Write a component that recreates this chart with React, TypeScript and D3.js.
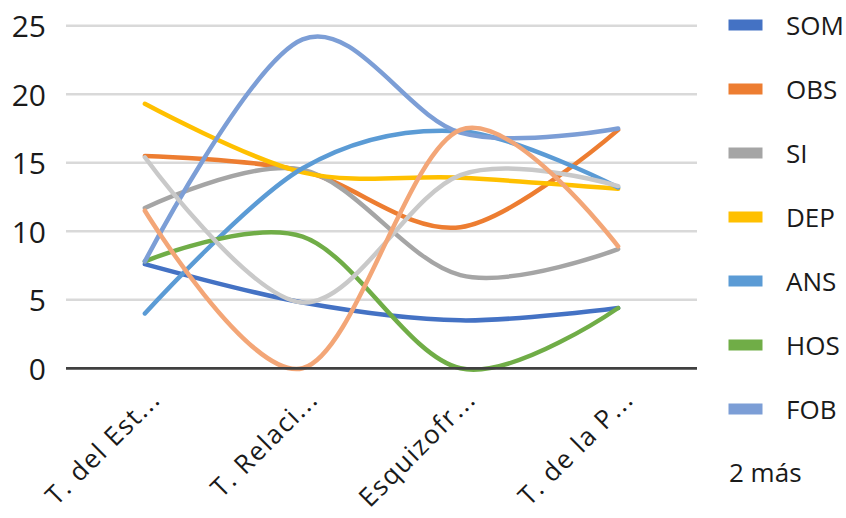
import React from "react";
import * as d3 from "d3";

const categories = ["T. del Est...", "T. Relaci...", "Esquizofr...", "T. de la P..."];
const seriesNames = ["SOM", "OBS", "SI", "DEP", "ANS", "HOS", "FOB", "Serie 8", "Serie 9"];
const SOM = [7.6, 4.8, 3.5, 4.4];
const OBS = [15.5, 14.4, 10.3, 17.4];
const SI = [11.7, 14.5, 6.8, 8.7];
const DEP = [19.3, 14.3, 13.9, 13.1];
const ANS = [4.0, 14.6, 17.3, 13.2];
const HOS = [7.8, 9.6, 0.0, 4.4];
const FOB = [7.8, 24.0, 17.2, 17.5];
const S8 = [15.4, 4.8, 14.1, 13.3];
const S9 = [11.5, 0.0, 17.4, 8.9];
const seriesValues = [SOM, OBS, SI, DEP, ANS, HOS, FOB, S8, S9];
const colors = ["#4472C4", "#ED7D31", "#A5A5A5", "#FFC000", "#5B9BD5", "#70AD47", "#7C9ED6", "#C9C9C9", "#F3A677"];
const legendShown = 7;
const moreLabel = "2 más";
const yTicks = [0, 5, 10, 15, 20, 25];

const W = 846;
const H = 518;
const FONT = "'Open Sans', sans-serif";

export default function App() {
  const x = d3.scalePoint<string>().domain(categories).range([66, 697]).padding(0.5);
  const y = d3.scaleLinear().domain([0, 25]).range([368.3, 25.7]);
  const line = d3
    .line<number>()
    .x((_, i) => x(categories[i]) as number)
    .y((d) => y(d))
    .curve(d3.curveCatmullRom.alpha(0));

  const drawOrder = [0, 1, 2, 3, 4, 5, 6, 7, 8];

  return (
    <svg
      width={W}
      height={H}
      style={{ position: "absolute", left: 0, top: 0, background: "#fff" }}
      fontFamily={FONT}
    >
      {yTicks.map((t) =>
        t === 0 ? null : (
          <line key={"g" + t} x1={66} x2={697} y1={y(t)} y2={y(t)} stroke="#D9D9D9" strokeWidth={2.5} />
        )
      )}
      {yTicks.map((t) => (
        <text
          key={"t" + t}
          x={46}
          y={y(t)}
          textAnchor="end"
          dominantBaseline="central"
          fontSize={30}
          fill="#1a1a1a"
        >
          {t}
        </text>
      ))}
      {drawOrder.map((si) => (
        <path
          key={"s" + si}
          d={line(seriesValues[si]) || ""}
          fill="none"
          stroke={colors[si]}
          strokeWidth={4.5}
          strokeLinecap="round"
          strokeLinejoin="round"
        />
      ))}
      <line x1={66} x2={697} y1={y(0)} y2={y(0)} stroke="#404040" strokeWidth={2.8} />
      {categories.map((c) => {
        const cx = (x(c) as number) + 17;
        const cy = 401;
        return (
          <text
            key={c}
            transform={`translate(${cx},${cy}) rotate(-45)`}
            textAnchor="end"
            fontSize={26}
            letterSpacing={1.6}
            fill="#1a1a1a"
          >
            {c}
          </text>
        );
      })}
      {seriesNames.slice(0, legendShown).map((n, i) => {
        const cy = 25 + i * 64;
        return (
          <g key={n}>
            <rect x={728.5} y={cy - 5.5} width={34} height={11} fill={colors[i]} />
            <text x={786} y={cy} dominantBaseline="central" fontSize={26} fill="#1a1a1a">
              {n}
            </text>
          </g>
        );
      })}
      <text x={729} y={472} dominantBaseline="central" fontSize={26} fill="#1a1a1a">
        {moreLabel}
      </text>
    </svg>
  );
}
